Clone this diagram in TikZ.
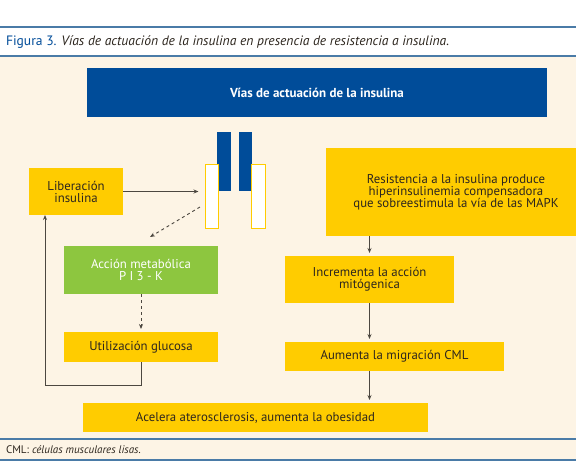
\documentclass[tikz,border=0pt]{standalone}
\usepackage{fontspec}
\setmainfont{PT Sans}
\usetikzlibrary{arrows.meta}

\definecolor{cream}{RGB}{253,244,229}
\definecolor{gold}{RGB}{255,204,0}
\definecolor{leaf}{RGB}{141,198,63}
\definecolor{navy}{RGB}{0,76,153}
\definecolor{rule}{RGB}{74,123,167}
\definecolor{ink}{RGB}{45,38,30}

\begin{document}
\begin{tikzpicture}[x=1pt, y=-1pt, font=\fontsize{12.8}{12}\selectfont,
    every node/.style={inner sep=0pt, outer sep=0pt, align=center, anchor=center, text=ink},
    goldbox/.style={fill=gold, minimum width=#1},
    greenbox/.style={fill=leaf, text=white, minimum width=154pt},
    bar/.style={fill=navy, minimum height=59pt},
    ring/.style={draw=gold, line width=1.5pt, fill=white, minimum height=64pt},
    flow/.style={draw=ink!85, line width=0.9pt, -{Stealth[length=5pt, width=4pt]}, shorten >=3pt},
    rulel/.style={draw=rule, line width=1.4pt}]
    \useasboundingbox (0, 0) rectangle (576, 461);
    \clip (0, 0) rectangle (576, 461);
    % background and rules
    \fill[white] (0, 0) rectangle (576, 461);
    \fill[cream] (0, 56) rectangle (576, 461);
    \draw[rulel] (0, 27) -- (576, 27);
    \draw[rulel] (0, 56) -- (576, 56);
    \draw[rulel] (0, 439) -- (576, 439);
    \draw[rulel] (0, 460) -- (576, 460);
    \node[anchor=west, font=\fontsize{13.6}{14}\selectfont] (cap) at (6, 42.5) {\textcolor{navy}{Figura 3.} \textit{Vías de actuación de la insulina en presencia de resistencia a insulina.}};
    \node[anchor=west, font=\fontsize{11}{12}\selectfont] (note) at (6, 449.5) {CML: \textit{células musculares lisas.}};
    % title
    \node[fill=navy, text=white, font=\fontsize{13}{14}\selectfont\bfseries, minimum width=460pt, minimum height=49pt] (title) at (317, 92.5) {Vías de actuación de la insulina};
    % receptor
    \node[bar, minimum width=14pt] (rb1) at (224, 161.5) {};
    \node[bar, minimum width=13pt] (rb2) at (245.5, 161.5) {};
    \node[ring, minimum width=13pt] (ry1) at (212, 196.5) {};
    \node[ring, minimum width=14pt] (ry2) at (258.5, 196.5) {};
    % left branch
    \node[goldbox=94pt, minimum height=47pt] (lib) at (76, 191.5) {Liberación\\insulina};
    \node[greenbox, minimum height=48pt] (pik) at (141, 270) {Acción metabólica\\P I 3 - K};
    \node[goldbox=154pt, minimum height=30pt] (util) at (141, 347) {Utilización glucosa};
    % right branch
    \node[goldbox=260pt, minimum height=88pt] (res) at (456, 192) {Resistencia a la insulina produce\\hiperinsulinemia compensadora\\que sobreestimula la vía de las MAPK};
    \node[goldbox=169pt, minimum height=47pt] (inc) at (369.5, 279.5) {Incrementa la acción\\mitógenica};
    \node[goldbox=219pt, minimum height=29pt] (aum) at (394.5, 356.5) {Aumenta la migración CML};
    \node[goldbox=345pt, minimum height=29pt] (acel) at (255.5, 417.5) {Acelera aterosclerosis, aumenta la obesidad};
    \coordinate (d1) at (200, 207);
    \coordinate (d2) at (150, 237);
    \coordinate (fb) at (45, 385);
    % connectors
    \draw[flow, shorten >=7pt] (lib.east) -- (lib.east -| ry1.west);
    \draw[flow, dashed, shorten >=0pt] (d1) -- (d2);
    \draw[flow, dashed] (pik.south) -- (util.north);
    \draw[flow, shorten >=0pt] (util.south) |- (fb) -- (fb |- lib.south);
    \draw[flow] (inc.north |- res.south) -- (inc.north);
    \draw[flow] (inc.south) -- (inc.south |- aum.north);
    \draw[flow] (inc.south |- aum.south) -- (inc.south |- acel.north);
\end{tikzpicture}
\end{document}
